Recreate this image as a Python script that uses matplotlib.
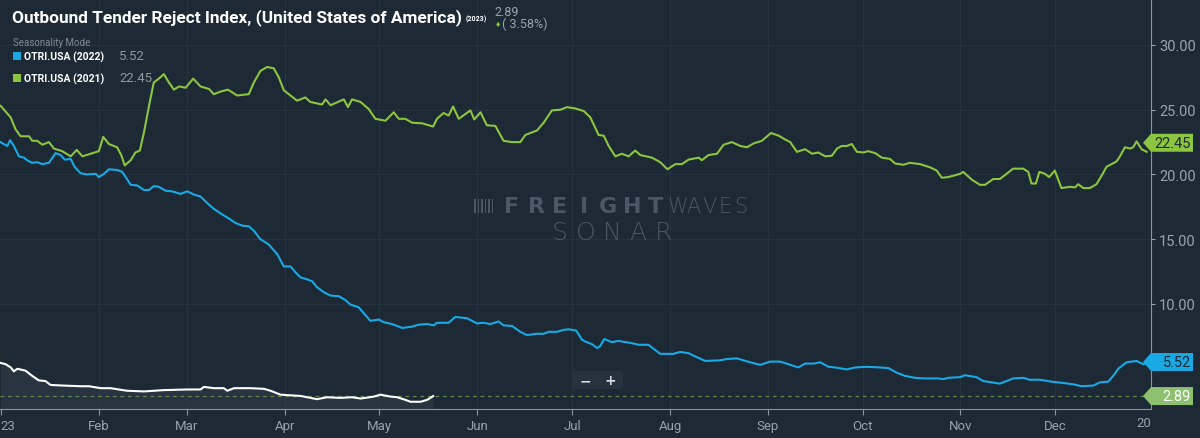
import matplotlib
matplotlib.use("Agg")
import matplotlib.pyplot as plt
from matplotlib.patches import Polygon, FancyBboxPatch, Rectangle

# --- data: day of year (0 = Jan 1) and OTRI values ---
days_2021 = [0, 3.2, 4.7, 6.3, 9, 10, 11.6, 13.2, 15.3, 16.9, 19.5, 22.2, 24.1, 25.9, 28.5, 31.1,
             32.5, 34.3, 36.9, 38.2, 39.3, 41.2, 42.7, 44.1, 45.4, 47, 48.5, 50.1, 51.7, 53.3,
             54.9, 56.5, 58.6, 61, 63.3, 66, 67.5, 69.6, 72, 74.9, 78.6, 80.2, 82.3, 84.4, 86.5,
             88.1, 89.7, 91.8, 93.9, 96.5, 98.1, 101.8, 102.9, 104.5, 108.7, 110, 111.3, 114,
             116.6, 118.7, 121.9, 124.5, 126.1, 128.2, 130.3, 133.5, 137, 138.2, 140.3, 141.9,
             143.3, 145.1, 148.8, 150, 152, 154, 156.7, 159.3, 162, 164.6, 166.2, 169.9, 172,
             174.6, 177.3, 179.4, 182, 184.7, 186.8, 189.4, 191, 192.6, 194.7, 196.8, 198.9,
             201, 202.6, 206.3, 208.9, 211.2, 213.7, 215.8, 217.9, 221.1, 222.1, 224.2, 226.9,
             229, 231.6, 234.3, 236.4, 238.5, 241.1, 244, 246.4, 248.5, 250.1, 252.2, 254.8,
             257, 259, 261.2, 263.3, 264.9, 266.4, 268, 269.6, 271.2, 273.3, 274.8, 277, 279.1,
             281.7, 283.3, 285.9, 288, 291.2, 294.4, 296.5, 298.1, 300.2, 303.9, 304.9, 307.6,
             310.2, 311.8, 314.4, 316.5, 318.6, 320.7, 323.9, 325.5, 326.5, 327.9, 329, 330.8,
             332.1, 333.9, 336, 338.7, 340.3, 341.3, 342.9, 345, 347.1, 348.7, 350.3, 353.4,
             354.3, 356.1, 357.7, 358.7, 359.8, 361.4, 363]
otri_2021 = [25.3, 24.4, 23.5, 22.95, 22.95, 22.6, 22.6, 22.3, 22.5, 22.0, 21.8, 21.4, 21.9, 21.4,
             21.6, 21.8, 22.9, 22.35, 22.1, 21.5, 20.7, 21.1, 21.7, 21.85, 23.25, 25.3, 27.1,
             27.4, 27.75, 27.1, 26.55, 26.8, 26.7, 27.4, 26.8, 26.6, 26.2, 26.4, 26.55, 26.1,
             26.2, 27.1, 28.0, 28.3, 28.2, 27.5, 26.5, 26.1, 25.7, 25.95, 25.6, 25.4, 25.8,
             25.35, 25.8, 25.2, 25.8, 25.6, 25.05, 24.3, 24.15, 24.8, 24.3, 24.3, 24.0, 23.95,
             23.7, 24.3, 24.75, 24.55, 25.25, 24.3, 24.95, 24.25, 24.8, 23.8, 23.75, 22.6, 22.5,
             22.5, 23.05, 23.4, 24.0, 24.95, 25.0, 25.2, 25.1, 24.9, 24.4, 23.05, 23.0, 22.2,
             21.4, 21.6, 21.4, 21.85, 21.5, 21.3, 20.95, 20.4, 20.8, 20.8, 21.15, 21.3, 21.1,
             21.5, 21.6, 22.3, 22.5, 22.2, 22.1, 22.4, 22.6, 23.2, 23.0, 22.7, 22.5, 21.75,
             21.95, 21.6, 21.7, 21.4, 21.45, 22.0, 22.2, 22.2, 22.35, 21.75, 21.7, 21.8, 21.65,
             21.3, 21.2, 20.85, 20.75, 20.9, 20.8, 20.55, 20.3, 19.75, 19.8, 20.05, 20.2, 19.6,
             19.2, 19.2, 19.65, 19.65, 20.05, 20.45, 20.45, 20.2, 19.3, 19.3, 20.2, 20.05, 19.8,
             20.3, 18.95, 19.05, 19.0, 19.25, 18.95, 18.95, 19.25, 19.9, 20.6, 21.0, 21.3, 22.1,
             22.0, 22.1, 22.55, 21.95, 21.75]

days_2022 = [0, 1, 2.1, 3, 4.2, 5.8, 7.4, 8.4, 10, 11.6, 13.2, 15.3, 17.4, 19, 20.3, 22.2, 23.4,
             25.3, 27.4, 30.1, 31.1, 32.7, 34.3, 36.9, 38.5, 39.6, 41.2, 43.3, 45.4, 47, 48.5,
             50.1, 52.2, 54.3, 57, 59.1, 61.2, 63.3, 65.4, 67.5, 69.6, 72.3, 74.4, 76.5, 78.6,
             80.2, 82.3, 84.9, 87.6, 89.7, 91.8, 93.4, 95, 97.1, 98.7, 100.2, 102.4, 104.5,
             107.1, 109.2, 110.8, 113.4, 115.5, 117.1, 119.8, 121.3, 124, 127.2, 130.3, 132.4,
             135.1, 137.2, 138.2, 141.9, 144, 147.7, 150.9, 153, 155.1, 157.7, 159.3, 162, 164.6,
             166.7, 169.9, 172, 173.6, 176.2, 178.3, 179.9, 182.3, 184.1, 185.2, 187.3, 188.9,
             189.9, 191.2, 193.6, 195.7, 199.4, 202.1, 205.2, 208.9, 213.1, 215.3, 217.9, 220,
             223.2, 227.9, 230, 233.2, 237.4, 240.6, 243.7, 246.9, 249.5, 252.7, 254.8, 257.5,
             259.6, 262.2, 264.3, 268, 270.7, 274.3, 278.5, 281.2, 283.8, 286.4, 289.6, 292.8,
             297, 298.6, 300.2, 303.9, 305.4, 309.1, 311.2, 313.9, 316.5, 318.6, 320.7, 323.9,
             326, 329.2, 332.9, 336.6, 339.7, 342.4, 346.1, 348.2, 350.8, 352.4, 354, 356.6,
             359.8, 361.9, 364]
otri_2022 = [22.5, 22.35, 22.2, 22.65, 22.2, 21.4, 21.3, 21.1, 20.9, 20.95, 20.8, 20.9, 21.65, 21.5,
             21.15, 21.2, 20.6, 20.1, 20.0, 20.05, 19.8, 20.05, 20.4, 20.35, 20.2, 19.8, 19.2,
             19.15, 18.8, 18.8, 19.1, 19.05, 18.75, 18.7, 18.5, 18.7, 18.45, 18.3, 17.8, 17.35,
             17.0, 16.6, 16.25, 16.05, 16.0, 15.65, 15.0, 14.6, 13.85, 12.9, 12.9, 12.45, 12.05,
             11.9, 11.75, 11.3, 10.9, 10.65, 10.6, 10.3, 9.95, 9.75, 9.15, 8.7, 8.8, 8.6, 8.45,
             8.15, 8.25, 8.4, 8.45, 8.35, 8.55, 8.55, 9.0, 8.9, 8.5, 8.55, 8.45, 8.65, 8.35, 8.3,
             7.85, 7.6, 7.7, 7.7, 7.85, 7.85, 8.0, 8.05, 7.95, 7.25, 7.1, 6.9, 6.6, 6.75, 7.3,
             7.05, 7.15, 7.0, 6.85, 6.85, 6.15, 6.15, 6.3, 6.2, 5.95, 5.6, 5.65, 5.75, 5.8, 5.5,
             5.3, 5.55, 5.55, 5.35, 5.1, 5.4, 5.4, 5.5, 5.15, 5.1, 4.95, 5.1, 5.15, 5.1, 5.05,
             4.7, 4.45, 4.3, 4.25, 4.25, 4.2, 4.3, 4.35, 4.5, 4.35, 4.05, 3.95, 3.85, 4.05, 4.25,
             4.3, 4.15, 4.15, 4.0, 3.9, 3.8, 3.65, 3.7, 3.95, 4.0, 4.45, 5.0, 5.5, 5.6, 5.35, 5.5]

days_2023 = [0, 1.6, 3.2, 4.2, 5.3, 7.9, 10, 12.1, 14.2, 15.8, 20, 25.3, 28, 31.7, 34.8, 40.1,
             45.4, 51.7, 59.1, 63.3, 64.4, 67.5, 70.7, 71.8, 73.9, 79.1, 83.4, 85.5, 88.6, 91.8,
             95, 97.1, 100.2, 103.4, 107.6, 111.3, 114, 118.2, 120.3, 123.5, 125.6, 128.2,
             129.8, 133, 135.1, 137]
otri_2023 = [5.45, 5.35, 5.1, 4.8, 5.0, 4.85, 4.45, 4.1, 4.05, 3.75, 3.7, 3.65, 3.65, 3.5, 3.5,
             3.3, 3.25, 3.35, 3.4, 3.4, 3.6, 3.5, 3.5, 3.3, 3.5, 3.5, 3.45, 3.3, 3.0, 2.95, 2.9,
             2.8, 2.65, 2.8, 2.75, 2.8, 2.7, 2.85, 3.0, 2.85, 2.8, 2.6, 2.45, 2.45, 2.6, 2.89]

month_starts = [0, 31, 59, 90, 120, 151, 181, 212, 243, 273, 304, 334]
month_labels = ["23", "Feb", "Mar", "Apr", "May", "Jun", "Jul", "Aug", "Sep", "Oct", "Nov", "Dec"]
y_ticks = [10, 15, 20, 25, 30]

last_2021 = 22.45
last_2022 = 5.52
last_2023 = 2.89
change_2023 = "3.58%"

BG = "#1d2935"
GRID = "#27343f"
BLUE = "#19a9e5"
GREEN = "#8cc540"
TAG_2023 = "#8dc170"
TICK_GREY = "#9aa3ab"
WM = "#4a5764"
FONT = ["Roboto", "DejaVu Sans"]

fig = plt.figure(figsize=(12, 4.39), dpi=100, facecolor=BG)
ax = fig.add_axes([0, 0.066, 0.959, 0.934], facecolor=BG)

ax.set_xlim(-0.2, 364.3)
ax.set_ylim(1.89, 33.55)

# grid
for d in month_starts[1:]:
    ax.axvline(d, color=GRID, lw=0.8, zorder=0)
for v in y_ticks:
    ax.axhline(v, color=GRID, lw=0.8, zorder=0)

# 2023 line with faint fill
ax.fill_between(days_2023, otri_2023, 1.89, color="#3a4753", alpha=0.4, lw=0, zorder=1)
ax.plot(days_2022, otri_2022, color=BLUE, lw=1.5, zorder=3)
ax.plot(days_2021, otri_2021, color=GREEN, lw=1.5, zorder=3)
ax.plot(days_2023, otri_2023, color="white", lw=1.5, zorder=4)
ax.axhline(last_2023, color="#5f8550", lw=0.9, ls=(0, (3, 3)), zorder=2)

# axes styling
for s in ["top", "left"]:
    ax.spines[s].set_visible(False)
ax.spines["right"].set_color("#8b949c")
ax.spines["bottom"].set_color("#8b949c")
ax.yaxis.tick_right()
ax.set_yticks(y_ticks)
ax.set_yticklabels([f"{v:.2f}" for v in y_ticks])
ax.tick_params(axis="y", colors=TICK_GREY, labelsize=10.5, length=3, pad=3)
ax.set_xticks(month_starts)
ax.set_xticklabels(month_labels)
ax.tick_params(axis="x", colors=TICK_GREY, labelsize=9.5, length=4, pad=3, color="#8b949c")
for lab in ax.get_xticklabels() + ax.get_yticklabels():
    lab.set_family(FONT)
ax.get_xticklabels()[0].set_horizontalalignment("left")
fig.text(1151 / 1200, 1 - 424 / 439, "20", color=TICK_GREY, fontsize=9.5,
         family=FONT, ha="right", va="center")

# value tags on the right axis
def tag(value, face, txt_color, text):
    y = ax.transData.transform((0, value))[1]
    x0, x1, h = 1143, 1193, 9
    poly = Polygon([[x0, y], [x0 + 8, y + h], [x1, y + h], [x1, y - h], [x0 + 8, y - h]],
                   closed=True, facecolor=face, edgecolor="none", transform=None, zorder=10)
    fig.patches.append(poly)
    fig.text((x1 - 2) / 1200, y / 439, text, color=txt_color, fontsize=10.5, family=FONT,
             ha="right", va="center", zorder=11)

tag(last_2021, GREEN, "#1d2935", f"{last_2021:.2f}")
tag(last_2022, BLUE, "#1d2935", f"{last_2022:.2f}")
tag(last_2023, TAG_2023, "white", f"{last_2023:.2f}")

# header
fig.text(12 / 1200, 1 - 22 / 439, "Outbound Tender Reject Index, (United States of America)",
         color="white", fontsize=12.4, fontweight="bold", family=FONT, va="baseline")
fig.text(466 / 1200, 1 - 21 / 439, "(2023)", color="white", fontsize=5, fontweight="bold",
         family=FONT, va="baseline")
fig.text(494 / 1200, 1 - 16 / 439, f"{last_2023:.2f}", color=TICK_GREY, fontsize=9,
         family=FONT, va="baseline")
fig.text(495 / 1200, 1 - 27 / 439, "\u2666", color=GREEN, fontsize=5, family=["DejaVu Sans"],
         va="baseline")
fig.text(502 / 1200, 1 - 28 / 439, f"( {change_2023})", color=TICK_GREY, fontsize=9,
         family=FONT, va="baseline")
fig.text(13 / 1200, 1 - 46 / 439, "Seasonality Mode", color="#7f8a94", fontsize=7,
         family=FONT, va="baseline")

for yy, col, name, val in [(57, BLUE, "OTRI.USA (2022)", last_2022),
                           (79, GREEN, "OTRI.USA (2021)", last_2021)]:
    fig.patches.append(Rectangle((13, 439 - yy - 4), 8, 8, facecolor=col, edgecolor="none",
                                 transform=None, zorder=10))
    fig.text(24 / 1200, 1 - yy / 439, name, color="white", fontsize=7.5, fontweight="bold",
             family=FONT, va="center")
    fig.text(119 / 1200, 1 - yy / 439, f"{val:.2f}", color="#8e979f", fontsize=9.5,
             family=FONT, va="center")

# watermark, letters spread out to mimic the wide logo type
for word, x_start, x_end, yy, size, weight in [("FREIGHT", 500, 668, 207, 16, "heavy"),
                                               ("WAVES", 670, 748, 207, 15, "light"),
                                               ("SONAR", 547, 677, 233, 18, "light")]:
    step = (x_end - x_start) / len(word)
    for i, ch in enumerate(word):
        fig.text((x_start + step * (i + 0.5)) / 1200, 1 - yy / 439, ch, color=WM,
                 fontsize=size, fontweight=weight, family=["DejaVu Sans"],
                 ha="center", va="center")
for i in range(6):
    fig.patches.append(Rectangle((474 + i * 3.5, 439 - 214), 1.8, 14, facecolor=WM,
                                 edgecolor="none", transform=None))

# zoom control
fig.patches.append(FancyBboxPatch((573, 439 - 390), 50, 18, boxstyle="round,pad=0,rounding_size=3",
                                  facecolor="#26333e", edgecolor="none", transform=None))
fig.patches.append(Rectangle((597.5, 439 - 387), 0.8, 12, facecolor="#3a4652",
                             edgecolor="none", transform=None))
for xx, sym in [(585, "\u2212"), (610, "+")]:
    fig.text(xx / 1200, 1 - 381 / 439, sym, color="#d5dade", fontsize=10,
             fontweight="bold", ha="center", va="center")

fig.savefig("out.png", dpi=100, facecolor=BG)
